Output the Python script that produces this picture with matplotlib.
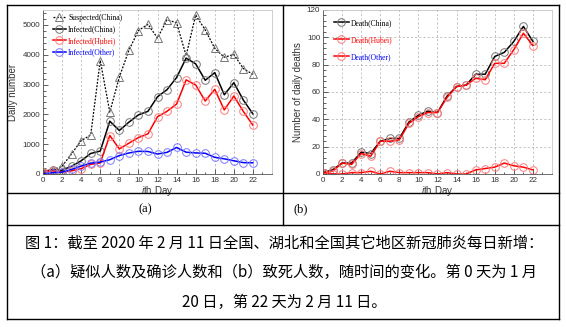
import matplotlib
matplotlib.use("Agg")
import matplotlib.pyplot as plt
from matplotlib.lines import Line2D
from matplotlib.ticker import MultipleLocator

plt.rcParams['font.family'] = ['Liberation Sans', 'DejaVu Sans']
plt.rcParams['mathtext.fontset'] = 'custom'
plt.rcParams['mathtext.it'] = 'Liberation Sans:italic'
plt.rcParams['mathtext.rm'] = 'Liberation Sans'

# day index, day 0 = Jan 20
days = list(range(23))

# (a) daily new cases
suspected_china = [54, 140, 257, 680, 1118, 1309, 3806, 2077, 3248, 4148, 4812, 5019,
                   4562, 5173, 5072, 3971, 5328, 4833, 4214, 3916, 4008, 3536, 3342]
infected_china = [77, 149, 131, 259, 444, 688, 769, 1771, 1459, 1737, 1982, 2102,
                  2590, 2829, 3235, 3887, 3694, 3143, 3399, 2656, 3062, 2478, 2015]
infected_hubei = [72, 105, 69, 105, 180, 323, 371, 1291, 840, 1032, 1220, 1347,
                  1921, 2103, 2345, 3156, 2987, 2447, 2841, 2147, 2618, 2097, 1638]
infected_other = [5, 44, 62, 154, 264, 365, 398, 480, 619, 705, 762, 755,
                  669, 726, 890, 731, 707, 696, 558, 509, 444, 381, 377]

# (b) daily deaths
death_china = [1, 3, 8, 8, 16, 15, 24, 26, 26, 38, 43, 46,
               45, 57, 64, 65, 73, 73, 86, 89, 97, 108, 97]
death_hubei = [1, 2, 8, 7, 15, 13, 24, 24, 25, 37, 42, 45,
               45, 56, 64, 65, 70, 69, 81, 81, 91, 103, 94]
death_other = [1, 0, 0, 1, 1, 2, 0, 2, 1, 1, 1, 1,
               0, 1, 0, 0, 3, 4, 5, 8, 6, 5, 3]

caption = ["图 1：截至 2020 年 2 月 11 日全国、湖北和全国其它地区新冠肺炎每日新增：",
           "（a）疑似人数及确诊人数和（b）致死人数，随时间的变化。第 0 天为 1 月",
           "20 日，第 22 天为 2 月 11 日。"]

W, H = 566, 327
fig = plt.figure(figsize=(W / 100, H / 100), dpi=100)
fig.patch.set_facecolor('white')


def px_box(x0, y0, x1, y1):
    # pixel box (from top-left) -> figure fraction rect
    return [x0 / W, 1 - y1 / H, (x1 - x0) / W, (y1 - y0) / H]


def style_axes(ax, ymax, ymajor, yminor, hgrid):
    ax.set_xlim(0, 24)
    ax.set_ylim(0, ymax)
    ax.xaxis.set_major_locator(MultipleLocator(2))
    ax.xaxis.set_minor_locator(MultipleLocator(1))
    ax.yaxis.set_major_locator(MultipleLocator(ymajor))
    ax.yaxis.set_minor_locator(MultipleLocator(yminor))
    ax.tick_params(which='both', direction='in', top=False, right=False,
                   colors='#444', labelsize=5.8, labelcolor='#333', width=0.6, pad=2)
    ax.tick_params(which='major', length=3.5)
    ax.tick_params(which='minor', length=1.8)
    ax.set_xticks([d for d in range(0, 23, 2)])
    for s in ['top', 'right']:
        ax.spines[s].set_color('#c8c8c8')
        ax.spines[s].set_linewidth(0.6)
    for s in ['left', 'bottom']:
        ax.spines[s].set_color('#555')
        ax.spines[s].set_linewidth(0.6)
    ax.grid(True, axis='x', which='major', ls=(0, (3, 3)), color='#aaa', lw=0.5)
    if hgrid:
        ax.grid(True, axis='y', which='major', ls=(0, (3, 3)), color='#aaa', lw=0.5)
    ax.set_xlabel(r'$i$th Day', fontsize=7, color='#333', labelpad=0)


# ---- panel (a)
ax1 = fig.add_axes(px_box(43, 10, 272, 174))
ax1.plot(days, suspected_china, ls=(0, (1.5, 1.2)), color='black', lw=0.9,
         marker='^', ms=5.5, mfc='none', mec='#777', mew=0.7, label='Suspected(China)')
ax1.plot(days, infected_china, color='black', lw=1.1,
         marker='o', ms=5.5, mfc='none', mec='#777', mew=0.7, label='Infected(China)')
ax1.plot(days, infected_hubei, color='red', lw=1.1,
         marker='o', ms=5.5, mfc='none', mec='#ff7a7a', mew=0.7, label='Infected(Hubei)')
ax1.plot(days, infected_other, color='blue', lw=1.1,
         marker='o', ms=5.5, mfc='none', mec='#7a7aff', mew=0.7, label='Infected(Other)')
style_axes(ax1, 5500, 1000, 200, False)
ax1.set_ylabel('Daily number', fontsize=7, color='#333', labelpad=3)
ax1.legend(loc='upper left', bbox_to_anchor=(0.03, 0.995), frameon=False,
           handlelength=1.7, handletextpad=0.3, labelspacing=0.45,
           borderaxespad=0, prop={'family': 'Liberation Serif', 'size': 5.5},
           labelcolor=['black', 'black', 'red', 'blue'])

# ---- panel (b)
ax2 = fig.add_axes(px_box(323, 10, 552, 174))
ax2.plot(days, death_china, color='black', lw=1.1,
         marker='o', ms=5.5, mfc='none', mec='#777', mew=0.7, label='Death(China)')
ax2.plot(days, death_hubei, color='red', lw=1.1,
         marker='o', ms=5.5, mfc='none', mec='#ff7a7a', mew=0.7, label='Death(Hubei)')
ax2.plot(days, death_other, color='red', lw=1.1,
         marker='o', ms=5.5, mfc='none', mec='#ff7a7a', mew=0.7, label='Death(Other)')
style_axes(ax2, 120, 20, 4, True)
ax2.set_ylabel('Number of daily deaths', fontsize=7, color='#333', labelpad=3)
ax2.legend(loc='upper left', bbox_to_anchor=(0.035, 0.965), frameon=False,
           handlelength=1.9, handletextpad=0.3, labelspacing=1.2,
           borderaxespad=0, prop={'family': 'Liberation Serif', 'size': 5.5},
           labelcolor=['black', 'red', 'blue'])

# ---- table frame
def hline(y, x0=7, x1=559):
    fig.add_artist(Line2D([x0 / W, x1 / W], [1 - y / H, 1 - y / H],
                          transform=fig.transFigure, color='black', lw=1))


def vline(x, y0, y1):
    fig.add_artist(Line2D([x / W, x / W], [1 - y0 / H, 1 - y1 / H],
                          transform=fig.transFigure, color='black', lw=1))


hline(5)
hline(193)
hline(225)
hline(319)
vline(7, 5, 319)
vline(559, 5, 319)
vline(283, 5, 225)

fig.text(145 / W, 1 - 209 / H, '(a)', ha='center', va='center',
         family='Liberation Serif', fontsize=9)
fig.text(293 / W, 1 - 209 / H, '(b)', ha='left', va='center',
         family='Liberation Serif', fontsize=9)

for i, line in enumerate(caption):
    fig.text(284 / W, 1 - (243 + 29.5 * i) / H, line, ha='center', va='center',
             family=['Noto Sans CJK SC', 'DejaVu Sans'], fontsize=11)

fig.savefig('out.png', dpi=100, facecolor='white')
